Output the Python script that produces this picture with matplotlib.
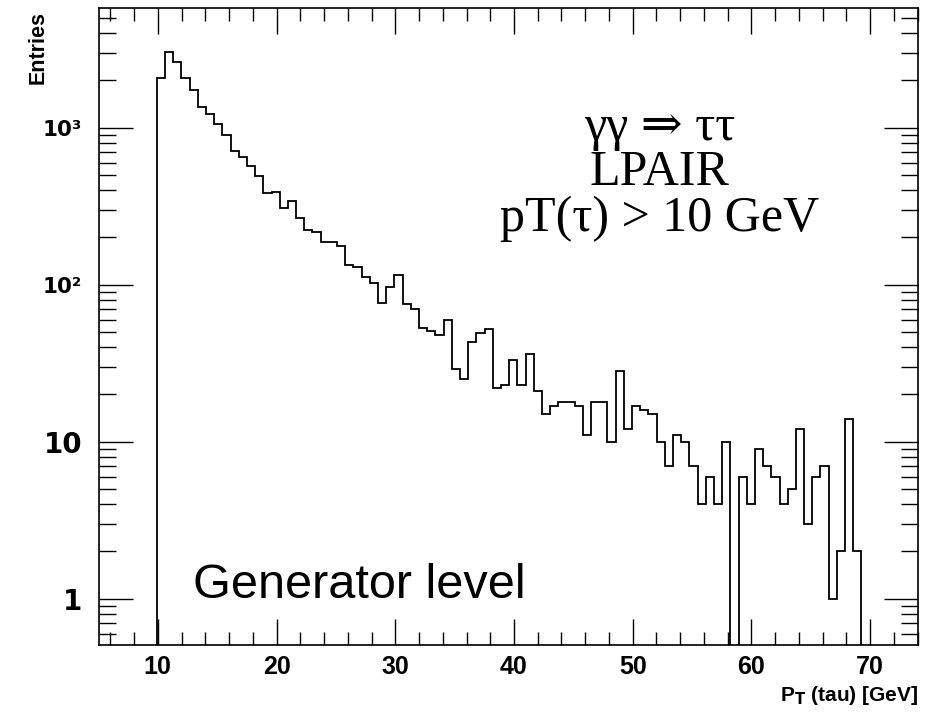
import numpy as np
import matplotlib
matplotlib.use("Agg")
from matplotlib import pyplot as plt
from matplotlib import font_manager
from matplotlib.ticker import MultipleLocator, LogLocator, FixedLocator, FixedFormatter, NullFormatter

# histogram of generator-level tau pT, fixed-width bins
bin_lo = 9.92
bin_width = 0.69
counts = [2080, 3048, 2632, 2080, 1738, 1349, 1222, 1056, 899, 714,
          654, 572, 493, 382, 391, 309, 343, 265, 223, 218,
          186, 188, 177, 133, 130, 112, 102, 77, 97, 115,
          75, 70, 53, 51, 48, 60, 29, 25, 43, 49,
          52, 22, 23, 33, 23, 36, 21, 15, 17, 18,
          18, 17, 11, 18, 18, 10, 28, 12, 17, 16,
          15, 10, 7, 11, 10, 7, 4, 6, 4, 10,
          0, 6, 4, 9, 7, 6, 4, 5, 12, 3,
          6, 7, 1, 2, 14, 2]

ytick_values = [1, 10, 100, 1000]
ytick_labels = ['1', '10', '10\u00b2', '10\u00b3']
xtick_values = [10, 20, 30, 40, 50, 60, 70]

process_lines = ['\u03b3\u03b3 \u21d2 \u03c4\u03c4', 'LPAIR', 'pT(\u03c4) > 10 GeV']

# narrow bold font for the x axis if we have it
names = {f.name for f in font_manager.fontManager.ttflist}
narrow = 'Liberation Sans Narrow' if 'Liberation Sans Narrow' in names else 'Liberation Sans'

counts = np.array(counts, dtype=float)
edges = bin_lo + bin_width * np.arange(len(counts) + 1)
floor = 1e-3
vals = np.where(counts > 0, counts, floor)

fig = plt.figure(figsize=(9.32, 7.14), dpi=100)
ax = fig.add_axes([0.1062, 0.0966, 0.8785, 0.8918])

ax.stairs(vals, edges, baseline=floor, fill=False, color='black', linewidth=1.3)

ax.set_yscale('log')
ax.set_xlim(5.05, 74.0)
ax.set_ylim(0.507, 5760)

for side in ax.spines.values():
    side.set_linewidth(1.2)

ax.xaxis.set_major_locator(FixedLocator(xtick_values))
ax.xaxis.set_minor_locator(MultipleLocator(2))
ax.yaxis.set_major_locator(FixedLocator(ytick_values))
ax.yaxis.set_major_formatter(FixedFormatter(ytick_labels))
ax.yaxis.set_minor_locator(LogLocator(base=10, subs=np.arange(2, 10)))
ax.yaxis.set_minor_formatter(NullFormatter())

ax.tick_params(axis='x', which='major', direction='in', length=18.5, width=1,
               top=True, bottom=True, pad=7)
ax.tick_params(axis='x', which='minor', direction='in', length=9.3, width=1,
               top=True, bottom=True)
ax.tick_params(axis='y', which='major', direction='in', length=24.5, width=1,
               left=True, right=True, pad=12)
ax.tick_params(axis='y', which='minor', direction='in', length=12.5, width=1,
               left=True, right=True)

for lab in ax.get_xticklabels():
    lab.set_fontfamily(narrow)
    lab.set_fontweight('bold')
    lab.set_fontsize(18)
# plain numbers drawn larger than the power-of-ten ones, as ROOT does
for lab, txt in zip(ax.get_yticklabels(), ytick_labels):
    lab.set_fontfamily('DejaVu Sans')
    lab.set_fontweight('bold')
    lab.set_fontsize(20 if len(txt) < 3 else 15.5)

ax.set_xlabel('P$_{\\mathbf{T}}$ (tau) [GeV]', fontfamily=narrow, fontweight='bold',
              fontsize=15, loc='right', labelpad=4)
ax.set_ylabel('Entries', fontfamily='Liberation Sans', fontweight='bold',
              fontsize=15.5, loc='top')
ax.yaxis.set_label_coords(-0.062, 0.995)

for i, line in enumerate(process_lines):
    ax.text(0.708, 0.804 - i * 0.0638, line, transform=fig.transFigure,
            ha='center', va='baseline', fontfamily=['Liberation Serif', 'DejaVu Serif'],
            fontsize=36)

ax.text(0.207, 0.163, 'Generator level', transform=fig.transFigure,
        ha='left', va='baseline', fontfamily='Liberation Sans', fontsize=35)

fig.savefig('out.png', dpi=100)
